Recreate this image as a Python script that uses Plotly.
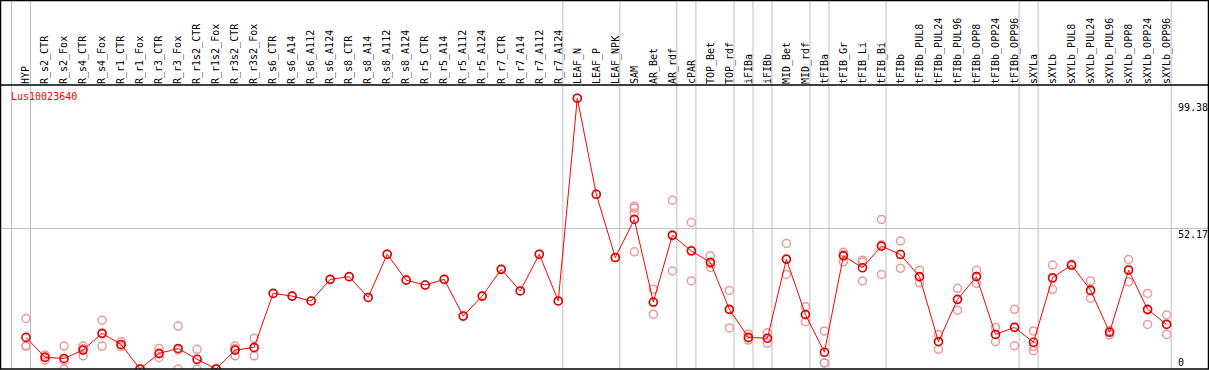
import plotly.graph_objects as go

categories = ["HYP", "R_s2_CTR", "R_s2_Fox", "R_s4_CTR", "R_s4_Fox", "R_r1_CTR", "R_r1_Fox",
              "R_r3_CTR", "R_r3_Fox", "R_r1s2_CTR", "R_r1s2_Fox", "R_r3s2_CTR", "R_r3s2_Fox",
              "R_s6_CTR", "R_s6_A14", "R_s6_A112", "R_s6_A124", "R_s8_CTR", "R_s8_A14",
              "R_s8_A112", "R_s8_A124", "R_r5_CTR", "R_r5_A14", "R_r5_A112", "R_r5_A124",
              "R_r7_CTR", "R_r7_A14", "R_r7_A112", "R_r7_A124", "LEAF_N", "LEAF_P", "LEAF_NPK",
              "SAM", "AR_Bet", "AR_rdf", "cPAR", "TOP_Bet", "TOP_rdf", "iFIBa", "iFIBb",
              "MID_Bet", "MID_rdf", "tFIBa", "tFIB_Gr", "tFIB_Li", "tFIB_Bi", "tFIBb",
              "tFIBb_PUL8", "tFIBb_PUL24", "tFIBb_PUL96", "tFIBb_OPP8", "tFIBb_OPP24",
              "tFIBb_OPP96", "sXYLa", "sXYLb", "sXYLb_PUL8", "sXYLb_PUL24", "sXYLb_PUL96",
              "sXYLb_OPP8", "sXYLb_OPP24", "sXYLb_OPP96"]

means = [11.7, 4.3, 3.9, 7.0, 13.2, 9.1, 0.0, 5.8, 7.6, 3.6, 0.0, 7.0, 8.0,
         28.0, 27.0, 25.2, 33.2, 34.2, 26.5, 42.5, 32.9, 31.1, 33.2, 19.6, 27.0,
         36.9, 28.9, 42.5, 25.2, 100.3, 64.7, 41.3,
         55.4, 24.8, 49.5, 43.7, 39.5, 22.1, 11.7, 11.4,
         40.7, 20.2, 6.2, 41.9, 37.5, 45.5, 42.4,
         34.2, 10.1, 25.8, 34.2, 12.8, 15.4,
         9.9, 33.8, 38.5, 29.2, 13.6, 36.6, 22.1, 16.5]

replicates = [
    [18.7, 8.7, 8.4], [5.2, 3.3, 4.4], [8.5, 0.0, 3.2], [8.5, 4.9, 7.6], [18.1, 8.5, 13.0],
    [10.1, 8.9, 8.3], [0.0, 0.0, 0.0], [7.6, 4.2, 5.6], [15.9, 0.0, 7.0], [7.3, 0.0, 3.5],
    [0.0, 0.0, 0.0], [8.5, 4.9, 7.6], [11.4, 4.9, 7.7],
    [28.0], [27.0], [25.2], [33.2], [34.2], [26.5], [42.5], [32.9], [31.1], [33.2],
    [19.6], [27.0], [36.9], [28.9], [42.5], [25.2], [100.3], [64.7], [41.3],
    [60.3, 59.6, 57.8, 43.4], [29.5, 20.3, 24.6], [62.5, 36.3, 49.7], [54.3, 32.6, 44.0],
    [41.9, 37.6, 39.0], [29.1, 15.2, 22.0], [12.9, 10.7, 11.5], [13.4, 9.5, 11.3],
    [46.5, 35.0, 40.6], [23.1, 17.5, 20.0], [14.1, 2.3, 2.2], [43.2, 42.4, 39.7],
    [40.3, 32.6, 39.6], [55.4, 35.0, 46.0], [47.4, 37.3, 42.5],
    [36.6, 31.9, 34.0], [12.8, 7.3, 10.2], [29.9, 21.8, 25.7], [36.6, 31.7, 34.3],
    [15.4, 10.1, 12.9], [22.1, 8.6, 15.5],
    [14.1, 8.3, 6.8], [38.5, 29.5, 33.4], [38.8, 38.2, 38.5], [32.6, 26.2, 28.8],
    [14.2, 12.6, 14.0], [40.6, 32.3, 36.9], [28.0, 16.5, 21.8], [20.0, 12.8, 16.7]]

gene_name = "Lus10023640"
y_labels = [99.38, 52.17, 0]
grid_values = [52.17]
# group separators sit just after these category indices
separators_after = [-1, 0, 28, 31, 34, 35, 37, 38, 39, 41, 42, 45, 52, 53, 60]

W, H = 1209, 370
ML, MR, MT, MB = 1, 1, 85, 1
plot_w = W - ML - MR
plot_h = H - MT - MB
step = 19.01
x0_px = 26 - ML
x_range = [-x0_px / step, (plot_w - x0_px) / step]
y_range = [0, plot_h / 2.7]

xs = list(range(len(categories)))
rep_x, rep_y = [], []
for i, reps in enumerate(replicates):
    for v in reps:
        rep_x.append(i)
        rep_y.append(v)

fig = go.Figure()
fig.add_trace(go.Scatter(
    x=rep_x, y=rep_y, mode="markers",
    marker=dict(symbol="circle-open", size=8, color="#ec9a9a", line=dict(width=1.5, color="#ec9a9a")),
    hoverinfo="skip", showlegend=False))
fig.add_trace(go.Scatter(
    x=xs, y=means, mode="lines+markers",
    line=dict(color="#ff0000", width=1),
    marker=dict(symbol="circle-open", size=8, color="#e00000", line=dict(width=1.6, color="#e00000")),
    showlegend=False))

top_paper = 1 + MT / plot_h
shapes = []
for s in separators_after:
    shapes.append(dict(type="line", xref="x", yref="paper", x0=s + 0.24, x1=s + 0.24,
                       y0=0, y1=top_paper, line=dict(color="#c0c0c0", width=1), layer="below"))
# frame and header line
shapes.append(dict(type="rect", xref="paper", yref="paper", x0=-0.5 / plot_w, x1=1 + 0.5 / plot_w,
                   y0=0, y1=top_paper - 0.5 / plot_h, line=dict(color="black", width=1.5)))
shapes.append(dict(type="line", xref="paper", yref="paper", x0=0, x1=1, y0=1, y1=1,
                   line=dict(color="black", width=1.5)))

mono = "DejaVu Sans Mono, monospace"
annotations = [dict(text=gene_name, xref="paper", yref="paper", x=8 / plot_w, y=1 - 12 / plot_h,
                    xanchor="left", yanchor="middle", showarrow=False,
                    font=dict(family=mono, size=10, color="#ff0000"))]
for v in y_labels:
    annotations.append(dict(text=f"{v:g}", xref="paper", yref="y", x=(1177 - ML) / plot_w, y=v,
                            xanchor="left", yanchor="top" if v > 0 else "bottom", showarrow=False,
                            borderpad=0, font=dict(family=mono, size=10, color="black")))

fig.update_layout(
    width=W, height=H, margin=dict(l=ML, r=MR, t=MT, b=MB),
    paper_bgcolor="white", plot_bgcolor="white",
    shapes=shapes, annotations=annotations,
    xaxis=dict(range=x_range, side="top", tickmode="array", tickvals=xs, ticktext=categories,
               tickangle=-90, showgrid=False, zeroline=False, ticks="", showline=False,
               tickfont=dict(family=mono, size=10, color="black"), fixedrange=True),
    yaxis=dict(range=y_range, tickmode="array", tickvals=grid_values, showticklabels=False,
               showgrid=True, gridcolor="#c0c0c0", gridwidth=1, zeroline=False, fixedrange=True),
)

fig.write_html("out.html", config={"displayModeBar": False},
               post_script="document.body.style.margin='0px';document.body.style.overflow='hidden';")
